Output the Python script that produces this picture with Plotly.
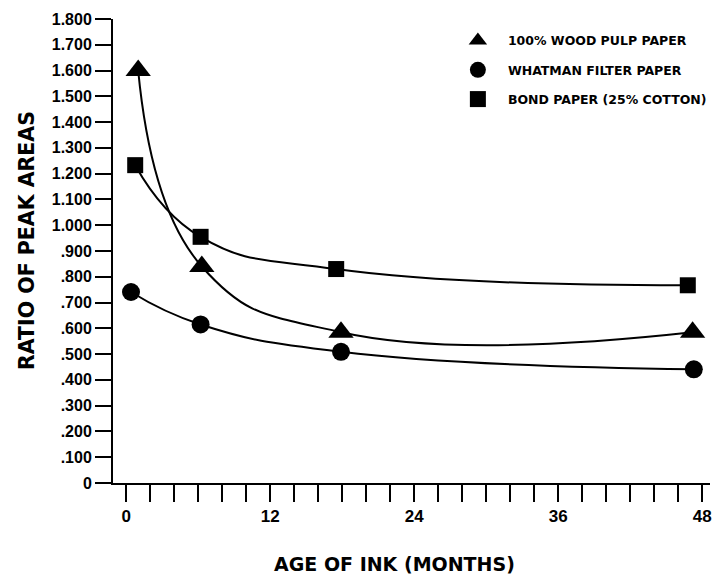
import plotly.graph_objects as go

# ---- data ----
wood_x = [1.0, 6.3, 17.9, 47.2]
wood_y = [1.60, 0.84, 0.585, 0.585]

whatman_x = [0.4, 6.2, 17.9, 47.3]
whatman_y = [0.741, 0.615, 0.509, 0.441]

bond_x = [0.75, 6.2, 17.5, 46.8]
bond_y = [1.233, 0.955, 0.830, 0.767]

series_names = ["100% WOOD PULP PAPER", "WHATMAN FILTER PAPER", "BOND PAPER (25% COTTON)"]

y_tick_vals = [0, 0.1, 0.2, 0.3, 0.4, 0.5, 0.6, 0.7, 0.8, 0.9, 1.0, 1.1, 1.2, 1.3, 1.4, 1.5, 1.6, 1.7, 1.8]
y_tick_text = ["0", ".100", ".200", ".300", ".400", ".500", ".600", ".700", ".800", ".900",
               "1.000", "1.100", "1.200", "1.300", "1.400", "1.500", "1.600", "1.700", "1.800"]
x_tick_vals = [0, 12, 24, 36, 48]
x_tick_text = ["0", "12", "24", "36", "48"]

x_title = "AGE OF INK (MONTHS)"
y_title = "RATIO OF PEAK AREAS"

FONT = "Liberation Sans, Arial, sans-serif"
NARROW = "Liberation Sans Narrow, Liberation Sans, Arial, sans-serif"
WIDE = "DejaVu Sans, Verdana, sans-serif"

fig = go.Figure()
series = [
    (series_names[0], wood_x, wood_y, "triangle-up", 22),
    (series_names[1], whatman_x, whatman_y, "circle", 18),
    (series_names[2], bond_x, bond_y, "square", 16),
]
# smooth connecting curves (no legend entry)
for name, xs, ys, sym, size in series:
    fig.add_trace(go.Scatter(
        x=xs, y=ys, name=name, legendgroup=name, showlegend=False,
        mode="lines", hoverinfo="skip",
        line=dict(color="black", width=2, shape="spline", smoothing=1.3),
    ))
# markers (with legend entry)
for name, xs, ys, sym, size in series:
    fig.add_trace(go.Scatter(
        x=xs, y=ys, name=name, legendgroup=name,
        mode="markers",
        marker=dict(symbol=sym, size=size, color="black", line=dict(width=0)),
    ))

fig.update_layout(
    width=714, height=576,
    margin=dict(l=112.5, r=3, t=19, b=93.3),
    paper_bgcolor="white", plot_bgcolor="white",
    showlegend=True,
    legend=dict(
        x=0.56, y=0.985, xanchor="left", yanchor="top",
        font=dict(family=WIDE, size=12.5, color="black", weight="bold"),
        itemwidth=50, tracegroupgap=10, traceorder="grouped",
        bgcolor="rgba(0,0,0,0)",
    ),
    xaxis=dict(
        range=[-1.1, 48.65], showgrid=False, zeroline=False,
        showline=True, linecolor="black", linewidth=2,
        tickmode="array", tickvals=x_tick_vals, ticktext=x_tick_text,
        ticks="outside", ticklen=17, tickwidth=2, tickcolor="black",
        minor=dict(dtick=2, tick0=0, ticks="outside", ticklen=17, tickwidth=2, tickcolor="black", showgrid=False),
        tickfont=dict(family=NARROW, size=17, color="black", weight="bold"),
    ),
    yaxis=dict(
        range=[0, 1.8], showgrid=False, zeroline=False,
        showline=True, linecolor="black", linewidth=2,
        tickmode="array", tickvals=y_tick_vals, ticktext=y_tick_text,
        ticks="outside", ticklen=16, tickwidth=2, tickcolor="black",
        tickfont=dict(family=NARROW, size=16, color="black", weight="bold"),
    ),
    annotations=[
        dict(text=x_title, xref="paper", yref="paper", x=0.472, y=-0.175,
             xanchor="center", yanchor="middle", showarrow=False,
             font=dict(family=WIDE, size=19, color="black", weight="bold")),
        dict(text=y_title, xref="paper", yref="paper", x=-0.1429, y=0.523,
             xanchor="center", yanchor="middle", showarrow=False, textangle=-90,
             font=dict(family=WIDE, size=20.5, color="black", weight="bold")),
    ],
)

fig.write_html("out.html")
